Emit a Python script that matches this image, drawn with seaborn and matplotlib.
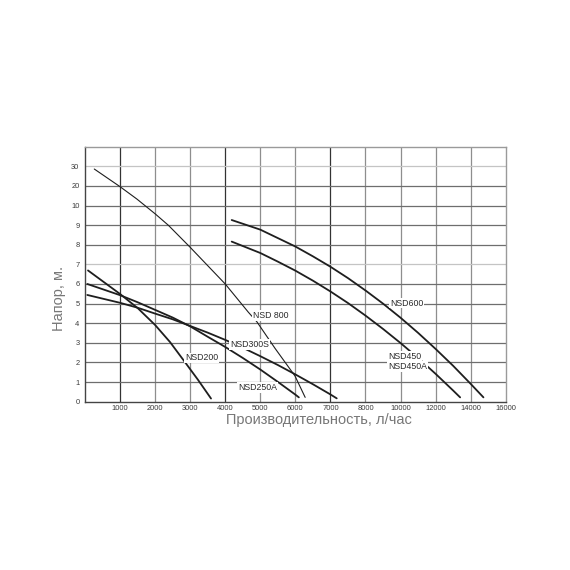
import numpy as np
import pandas as pd
import matplotlib
matplotlib.use("Agg")
import matplotlib.pyplot as plt
import seaborn as sns

# axis ladders (uneven ticks, every tick one grid cell apart)
x_ticks = [0, 1000, 2000, 3000, 4000, 5000, 6000, 7000, 8000, 10000, 12000, 14000, 16000]
y_ticks = [0, 1, 2, 3, 4, 5, 6, 7, 8, 9, 10, 20, 30, 40]
y_labels = ["0", "1", "2", "3", "4", "5", "6", "7", "8", "9", "10", "20", "30", ""]

# pump curves, flow l/h vs head m
nsd800_q = [265, 1000, 1480, 2005, 2380, 3000, 4000, 4660, 4900, 5420, 5990, 6280]
nsd800_h = [28.6, 19.6, 13.3, 9.57, 8.99, 7.87, 6.0, 4.56, 4.08, 2.72, 1.31, 0.22]

nsd200_q = [86, 1000, 1510, 2000, 2425, 2850, 3225, 3595]
nsd200_h = [6.69, 5.49, 4.76, 3.91, 3.04, 2.02, 1.11, 0.16]

nsd250a_q = [66, 1000, 1500, 2000, 2500, 3000, 3500, 4000, 4500, 5000, 5500, 6000, 6100]
nsd250a_h = [6.0, 5.43, 5.07, 4.68, 4.29, 3.84, 3.31, 2.79, 2.23, 1.64, 1.01, 0.36, 0.22]

nsd300s_q = [66, 1000, 1500, 2000, 2500, 3000, 3500, 4000, 4500, 5000, 5500, 6000, 6500, 7000, 7180]
nsd300s_h = [5.44, 5.04, 4.79, 4.49, 4.20, 3.86, 3.52, 3.15, 2.75, 2.32, 1.87, 1.39, 0.89, 0.37, 0.17]

nsd600_q = [4185, 5000, 5500, 6000, 6500, 7000, 7500, 8000, 9000, 10000, 11000, 12000, 13000, 14000, 14730]
nsd600_h = [9.26, 8.77, 8.34, 7.91, 7.41, 6.88, 6.30, 5.67, 5.00, 4.28, 3.51, 2.69, 1.83, 0.91, 0.22]

nsd450_q = [4185, 5000, 5500, 6000, 6500, 7000, 7500, 8000, 9000, 10000, 11000, 12000, 13000, 13400]
nsd450_h = [8.16, 7.58, 7.14, 6.68, 6.17, 5.62, 5.03, 4.39, 3.71, 2.99, 2.23, 1.42, 0.57, 0.22]

x_pos = np.arange(len(x_ticks))
y_pos = np.arange(len(y_ticks))


def fx(v):
    return np.interp(v, x_ticks, x_pos)


def fx_inv(p):
    return np.interp(p, x_pos, x_ticks)


def fy(v):
    return np.interp(v, y_ticks, y_pos)


def fy_inv(p):
    return np.interp(p, y_pos, y_ticks)


sns.set_style("white")
plt.rcParams["font.family"] = ["Liberation Sans", "DejaVu Sans"]

fig = plt.figure(figsize=(5.7, 5.7), dpi=100)
ax = fig.add_axes([0.1491, 0.2953, 0.7381, 0.4474])

curves = [
    (nsd800_q, nsd800_h, 0.8),
    (nsd200_q, nsd200_h, 1.3),
    (nsd250a_q, nsd250a_h, 1.3),
    (nsd300s_q, nsd300s_h, 1.3),
    (nsd600_q, nsd600_h, 1.3),
    (nsd450_q, nsd450_h, 1.3),
]
for q, h, lw in curves:
    sns.lineplot(x=q, y=h, ax=ax, color="#1e1e1e", lw=lw, sort=False, zorder=3)

ax.set_xscale("function", functions=(fx, fx_inv))
ax.set_yscale("function", functions=(fy, fy_inv))
ax.set_xlim(0, 16000)
ax.set_ylim(0, 40)

ax.set_xticks(x_ticks[1:])
ax.set_xticklabels([str(t) for t in x_ticks[1:]])
ax.set_yticks(y_ticks)
ax.set_yticklabels(y_labels)
ax.minorticks_off()
ax.tick_params(axis="both", length=0, labelsize=5.4, colors="#3a3a3a")
ax.tick_params(axis="x", pad=2.5)
ax.tick_params(axis="y", pad=4)

# grid, a few lines darker like the scan
dark_x = [1000, 4000, 7000]
for t in x_ticks[1:-1]:
    ax.axvline(t, color="#333333" if t in dark_x else "#8e8e8e", lw=0.9, zorder=1)
light_y = [7, 30]
for t in y_ticks[1:-1]:
    ax.axhline(t, color="#c4c4c4" if t in light_y else "#6e6e6e", lw=0.9, zorder=1)

for side in ["left", "bottom"]:
    ax.spines[side].set_color("#444444")
    ax.spines[side].set_linewidth(1.0)
for side in ["top", "right"]:
    ax.spines[side].set_color("#9a9a9a")
    ax.spines[side].set_linewidth(1.0)

box = dict(facecolor="white", edgecolor="none", pad=0.6)
labels = [
    ("NSD 800", 4785, 4.38),
    ("NSD300S", 4140, 2.93),
    ("NSD200", 2853, 2.23),
    ("NSD250A", 4365, 0.72),
    ("NSD600", 9400, 5.03),
    ("NSD450", 9290, 2.29),
    ("NSD450A", 9290, 1.78),
]
for txt, lx, ly in labels:
    ax.text(lx, ly, txt, fontsize=6.3, color="#2a2a2a", ha="left", va="center",
            bbox=box, zorder=4)

ax.set_xlabel("Производительность, л/час", fontsize=10.5, color="#777777")
ax.xaxis.set_label_coords(0.556, -0.044)
ax.set_ylabel("Напор, м.", fontsize=10.5, color="#777777")
ax.yaxis.set_label_coords(-0.045, 0.405)

fig.savefig("out.png", dpi=100, facecolor="white")
